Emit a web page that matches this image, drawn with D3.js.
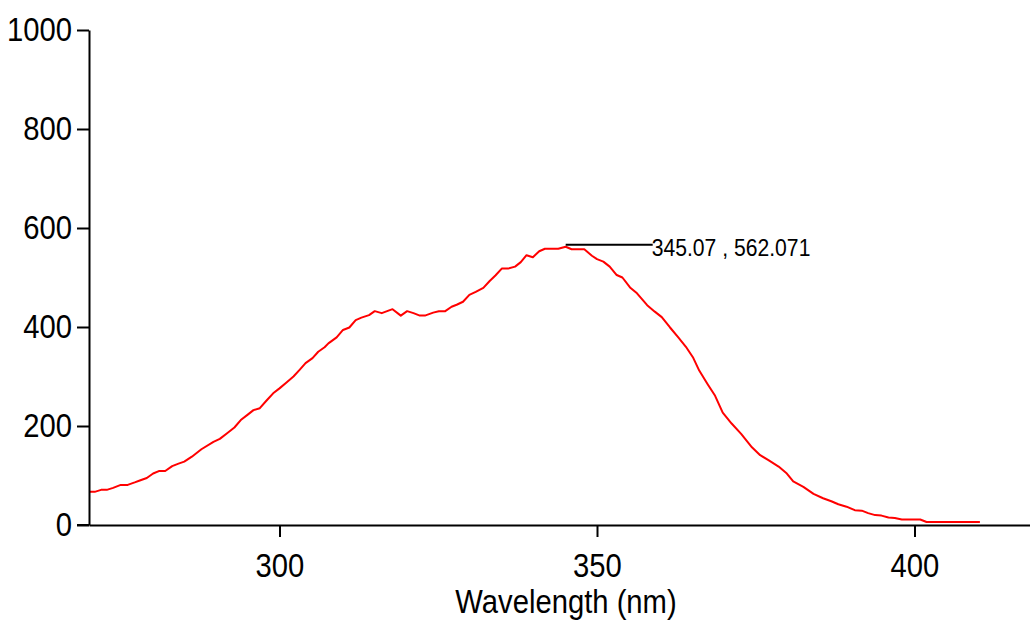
<!DOCTYPE html>
<html>
<head>
<meta charset="utf-8">
<script src="https://cdn.jsdelivr.net/npm/d3@7"></script>
<style>
  html, body { margin: 0; padding: 0; background: #fff; }
  svg { display: block; }
  text { font-family: "Liberation Sans", Arial, Helvetica, sans-serif; fill: #000; }
</style>
</head>
<body>
<svg id="chart" width="1030" height="621"></svg>
<script>
// ---- data ----
const wavelength = [
  270.0, 270.9, 271.9, 272.8, 273.8, 275.0, 276.1, 277.2, 278.0, 279.1,
  280.1, 281.0, 282.0, 283.1, 284.1, 285.0, 286.2, 287.7, 289.6, 290.6,
  291.7, 292.9, 293.9, 295.0, 295.9, 296.9, 298.0, 299.0, 300.0, 301.1,
  302.2, 303.2, 304.1, 305.2, 306.1, 307.1, 307.7, 309.0, 310.0, 311.0,
  312.0, 312.9, 314.1, 315.0, 316.1, 317.8, 319.1, 320.1, 321.1, 322.1,
  322.9, 324.2, 325.1, 326.1, 327.1, 327.9, 328.9, 329.9, 330.9, 332.1,
  333.1, 334.0, 335.0, 336.0, 337.1, 338.0, 338.9, 339.9, 340.9, 341.8,
  342.9, 343.9, 345.07, 346.0, 348.0, 349.2, 350.0, 351.0, 352.0, 353.1,
  354.0, 355.2, 356.3, 357.9, 359.1, 360.2, 361.5, 362.8, 364.0, 365.1,
  366.1, 367.4, 368.6, 369.8, 371.2, 372.7, 374.4, 375.7, 377.0, 378.6,
  379.9, 380.9, 382.5, 384.1, 385.6, 386.9, 388.0, 389.3, 390.6, 391.7,
  392.7, 393.8, 394.8, 395.9, 396.9, 398.0, 400.9, 401.9, 410.3
];
const intensity = [
  67, 67, 71, 71, 75, 81, 81, 86, 90, 95,
  104, 109, 109, 119, 124, 128, 138, 153, 168, 174,
  185, 197, 212, 223, 232, 236, 252, 266, 276, 288,
  300, 314, 327, 337, 350, 359, 367, 379, 394, 399,
  414, 419, 424, 432, 428, 436, 423, 432, 428, 423,
  423, 429, 432, 432, 441, 445, 451, 465, 471, 479,
  493, 504, 518, 518, 522, 531, 545, 541, 553, 558,
  558, 558, 562.071, 557, 557, 544, 537, 532, 522, 505,
  500, 480, 468, 444, 431, 420, 399, 379, 360, 339,
  312, 285, 261, 227, 205, 184, 157, 141, 131, 118,
  104, 88, 77, 63, 54, 48, 42, 37, 30, 29,
  24, 20, 19, 15, 14, 11, 11, 6, 6
];
const xTicks = [300, 350, 400];
const yTicks = [0, 200, 400, 600, 800, 1000];
const xDomain = [270, 420];
const yDomain = [0, 1000];
const xTitle = "Wavelength (nm)";
const peak = { x: 345.07, y: 562.071, label: "345.07 , 562.071" };

// ---- layout ----
const svg = d3.select("#chart");
const mLeft = 89, mBottom = 525, mTop = 30;
const pxPerUnit = 6.35;
const x = d3.scaleLinear().domain(xDomain).range([mLeft, mLeft + (xDomain[1] - xDomain[0]) * pxPerUnit]);
const y = d3.scaleLinear().domain(yDomain).range([mBottom, mTop]);
const sx = 0.86; // horizontal squeeze of the lettering

// curve
const pts = wavelength.map((w, i) => [w, intensity[i]]);
svg.append("path")
  .datum(pts)
  .attr("fill", "none")
  .attr("stroke", "#ff0000")
  .attr("stroke-width", 2)
  .attr("stroke-linejoin", "round")
  .attr("d", d3.line().x(d => x(d[0])).y(d => y(d[1])));

// y axis
const gy = svg.append("g")
  .attr("transform", `translate(${mLeft},0)`)
  .call(d3.axisLeft(y).tickValues(yTicks).tickFormat(d3.format("d")).tickSize(12).tickSizeOuter(0));
gy.select(".domain").attr("stroke", "#000").attr("stroke-width", 2);
gy.selectAll(".tick line").attr("stroke", "#000").attr("stroke-width", 2);
gy.selectAll(".tick text")
  .attr("font-size", 34)
  .attr("font-family", "Liberation Sans, Arial, sans-serif")
  .attr("x", -17 / sx)
  .attr("dy", "0.32em")
  .attr("transform", `scale(${sx},1)`);

// x axis
const gx = svg.append("g")
  .attr("transform", `translate(0,${mBottom})`)
  .call(d3.axisBottom(x).tickValues(xTicks).tickFormat(d3.format("d")).tickSize(12).tickSizeOuter(0));
gx.select(".domain").attr("stroke", "#000").attr("stroke-width", 2);
gx.selectAll(".tick line").attr("stroke", "#000").attr("stroke-width", 2);
gx.selectAll(".tick text")
  .attr("font-size", 34)
  .attr("font-family", "Liberation Sans, Arial, sans-serif")
  .attr("y", 52)
  .attr("dy", 0)
  .attr("transform", `scale(${sx},1)`);
gx.append("line").attr("x1", mLeft - 12).attr("x2", mLeft).attr("y1", 0).attr("y2", 0)
  .attr("stroke", "#000").attr("stroke-width", 2);

// x title
svg.append("text")
  .attr("transform", `translate(566,613) scale(${sx},1)`)
  .attr("text-anchor", "middle")
  .attr("font-size", 34)
  .text(xTitle);

// peak annotation
const px = x(peak.x), py = y(peak.y) - 2;
svg.append("line")
  .attr("x1", px).attr("x2", px + 87)
  .attr("y1", py).attr("y2", py)
  .attr("stroke", "#000").attr("stroke-width", 2);
svg.append("text")
  .attr("transform", `translate(${px + 86},${py + 11}) scale(0.92,1)`)
  .attr("font-size", 23)
  .text(peak.label);
</script>
</body>
</html>
